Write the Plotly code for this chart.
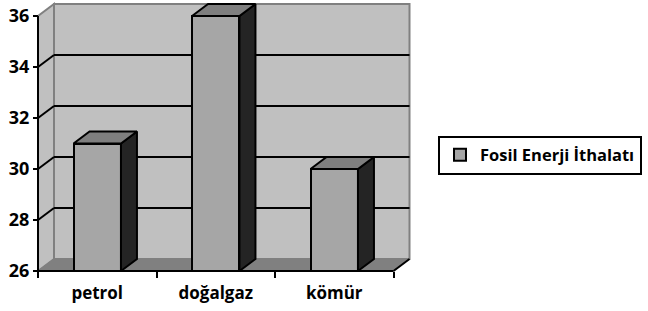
import plotly.graph_objects as go

# ---- data ----
categories = ["petrol", "doğalgaz", "kömür"]
values = [31, 36, 30]
series_name = "Fosil Enerji İthalatı"
y_ticks = [26, 28, 30, 32, 34, 36]

# ---- styling / 3D pseudo-depth ----
BASE = y_ticks[0]
TOP = y_ticks[-1]
DX = 0.135   # depth offset in category units
DY = 0.47    # depth offset in value units
BW = 0.40    # bar width in category units

front_color = "#a6a6a6"
top_color = "#7f7f7f"
side_color = "#242424"
wall_color = "#c0c0c0"
floor_color = "#808080"
wall_edge = "#808080"
FONT = "Open Sans"

n = len(categories)
centers = [i + 0.5 for i in range(n)]

fig = go.Figure()

# front faces of the bars
fig.add_trace(go.Bar(
    x=centers, y=[v - BASE for v in values], base=BASE, width=BW,
    marker=dict(color=front_color, line=dict(color="black", width=2)),
    name=series_name, showlegend=True, hoverinfo="skip",
))

# side and top faces computed from the data
for c, v in zip(centers, values):
    xl, xr = c - BW / 2, c + BW / 2
    fig.add_trace(go.Scatter(
        x=[xr, xr + DX, xr + DX, xr, xr], y=[BASE, BASE + DY, v + DY, v, BASE],
        mode="lines", fill="toself", fillcolor=side_color,
        line=dict(color="black", width=2), showlegend=False, hoverinfo="skip",
        cliponaxis=False,
    ))
    fig.add_trace(go.Scatter(
        x=[xl, xl + DX, xr + DX, xr, xl], y=[v, v + DY, v + DY, v, v],
        mode="lines", fill="toself", fillcolor=top_color,
        line=dict(color="black", width=2), showlegend=False, hoverinfo="skip",
        cliponaxis=False,
    ))

shapes = []
# back wall
shapes.append(dict(type="rect", xref="x", yref="y", x0=DX, x1=n + DX, y0=BASE + DY, y1=TOP + DY,
                   fillcolor=wall_color, line=dict(color=wall_edge, width=2), layer="below"))
# left wall
shapes.append(dict(type="path", xref="x", yref="y",
                   path=f"M 0,{BASE} L {DX},{BASE + DY} L {DX},{TOP + DY} L 0,{TOP} Z",
                   fillcolor=wall_color, line=dict(color=wall_edge, width=2), layer="below"))
# gridlines
for t in y_ticks[1:-1]:
    shapes.append(dict(type="line", xref="x", yref="y", x0=DX, x1=n + DX, y0=t + DY, y1=t + DY,
                       line=dict(color="black", width=2), layer="below"))
    shapes.append(dict(type="line", xref="x", yref="y", x0=0, x1=DX, y0=t, y1=t + DY,
                       line=dict(color="black", width=2), layer="below"))
# floor
shapes.append(dict(type="path", xref="x", yref="y",
                   path=f"M 0,{BASE} L {n},{BASE} L {n + DX},{BASE + DY} L {DX},{BASE + DY} Z",
                   fillcolor=floor_color, line=dict(color=wall_edge, width=1), layer="below"))
shapes.append(dict(type="line", xref="x", yref="y", x0=n, x1=n + DX, y0=BASE, y1=BASE + DY,
                   line=dict(color="black", width=2), layer="below"))
# front edges (axis lines)
shapes.append(dict(type="line", xref="x", yref="y", x0=0, x1=n, y0=BASE, y1=BASE,
                   line=dict(color="black", width=2), layer="above"))
shapes.append(dict(type="line", xref="x", yref="y", x0=0, x1=0, y0=BASE, y1=TOP,
                   line=dict(color="black", width=2), layer="above"))

# pixel geometry: plot area x 30..420, y 0..280
PX_X = 118.5
PX_Y = 25.5
x_range = [(30 - 38) / PX_X, (420 - 38) / PX_X]
y_range = [BASE - (280 - 271) / PX_Y, BASE + (271 - 0) / PX_Y]

fig.update_layout(
    width=648, height=311, autosize=False,
    margin=dict(l=30, r=228, t=0, b=31, pad=0, autoexpand=False),
    paper_bgcolor="white", plot_bgcolor="white",
    shapes=shapes,
    bargap=0,
    showlegend=True,
    legend=dict(x=(438 - 30) / 390, y=(280 - 155) / 280, xanchor="left", yanchor="middle",
                bordercolor="black", borderwidth=2, bgcolor="white",
                font=dict(family=FONT, size=16.5, color="black", weight="bold"),
                itemwidth=30),
    xaxis=dict(range=x_range, anchor="free", position=(280 - 271) / 280,
               tickmode="array", tickvals=centers, ticktext=categories, ticks="",
               showgrid=False, zeroline=False, showline=False, automargin=False,
               tickfont=dict(family=FONT, size=17, color="black", weight="bold"),
               ticklabelstandoff=10,
               minor=dict(tickmode="array", tickvals=list(range(n + 1)), ticks="outside",
                          ticklen=6, tickwidth=2, tickcolor="black", showgrid=False)),
    yaxis=dict(range=y_range, anchor="free", position=(38 - 30) / 390,
               tickmode="array", tickvals=y_ticks, ticks="outside", ticklen=5, tickwidth=2,
               tickcolor="black", showgrid=False, zeroline=False, showline=False, automargin=False,
               tickfont=dict(family=FONT, size=18, color="black", weight="bold")),
)

fig.write_html(
    "out.html",
    config={"displayModeBar": False},
    post_script="document.body.style.margin='0';document.body.style.overflow='hidden';",
)
